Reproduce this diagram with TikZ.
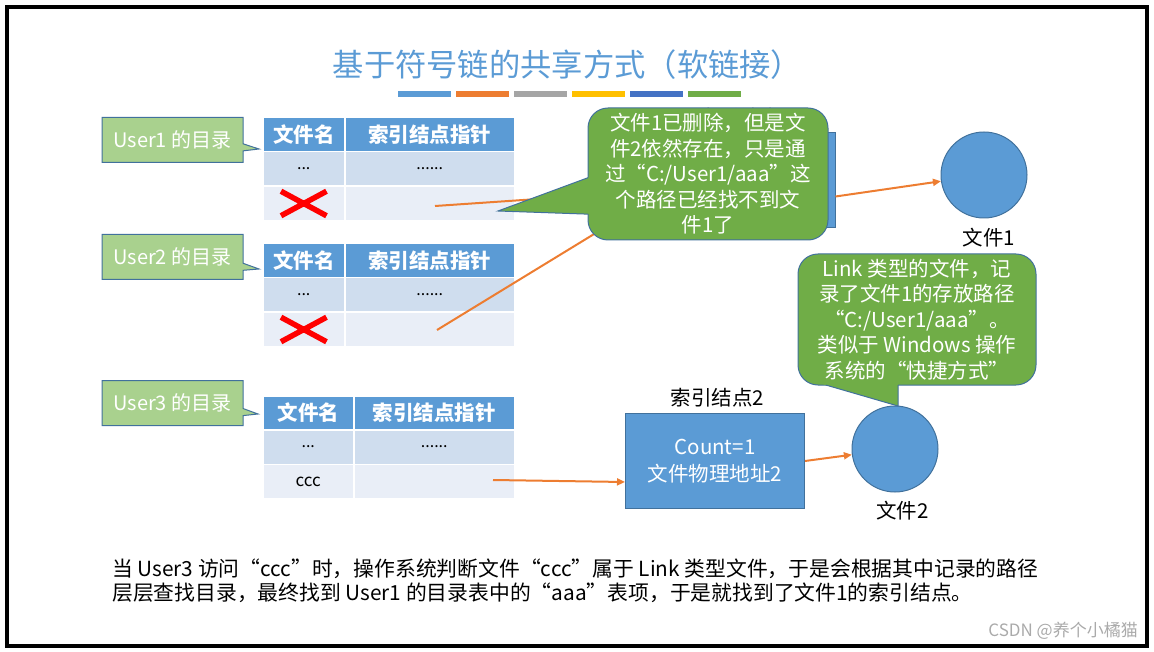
\documentclass[tikz,border=0pt]{standalone}
\usepackage{fontspec}
\setmainfont{Noto Sans CJK SC}
\usetikzlibrary{shapes.callouts,shapes.misc,arrows.meta,calc}
\definecolor{ppblue}{RGB}{91,155,213}
\definecolor{ppedge}{RGB}{65,113,156}
\definecolor{pporange}{RGB}{237,125,49}
\definecolor{ppgray}{RGB}{165,165,165}
\definecolor{ppgold}{RGB}{255,192,0}
\definecolor{ppdark}{RGB}{68,114,196}
\definecolor{ppgreen}{RGB}{112,173,71}
\definecolor{pplight}{RGB}{169,209,142}
\definecolor{rowa}{RGB}{207,221,238}
\definecolor{rowb}{RGB}{233,238,247}
\definecolor{wmgray}{RGB}{170,170,170}

\newcommand{\dirtable}[4]{%
  \node[hcell,minimum width={#3-262}] (#1-h1) at (262,#2) {文件名};
  \node[hcell,minimum width={514-#3}] (#1-h2) at (#3,#2) {索引结点指针};
  \node[acell,minimum width={#3-262}] (#1-a1) at (262,#2+34) {...};
  \node[acell,minimum width={514-#3}] (#1-a2) at (#3,#2+34) {......};
  \node[bcell,minimum width={#3-262}] (#1-b1) at (262,#2+68.5) {#4};
  \node[bcell,minimum width={514-#3}] (#1-b2) at (#3,#2+68.5) {};
}

\begin{document}
\begin{tikzpicture}[x=1pt,y=-1pt,
  cell/.style={anchor=north west,draw=white,line width=1.5pt,inner sep=0pt,minimum height=34.5pt},
  hcell/.style={cell,fill=ppblue,text=white,minimum height=34pt,font=\fontsize{20.5}{24}\selectfont\bfseries},
  acell/.style={cell,fill=rowa,font=\fontsize{16}{19}\selectfont},
  bcell/.style={cell,fill=rowb,font=\fontsize{17}{20}\selectfont},
  xmark/.style={cross out,draw=red,line width=5.5pt,minimum width=40pt,minimum height=19pt,inner sep=0pt},
  userbox/.style={rectangle callout,fill=pplight,draw=ppedge,line width=1pt,minimum width=141pt,minimum height=45pt,inner sep=0pt,text=white,font=\fontsize{20}{24}\selectfont},
  bubble/.style={rounded corners=20pt,fill=ppgreen,draw=ppedge,line width=1pt,text=white,align=center,inner sep=0pt,font=\fontsize{20.5}{25.5}\selectfont},
  idxbox/.style={fill=ppblue,draw=ppedge,line width=1pt,minimum width=179pt,minimum height=95pt,text=white,align=center,font=\fontsize{20.5}{27}\selectfont},
  filenode/.style={circle,fill=ppblue,draw=ppedge,line width=1pt,minimum size=86pt,inner sep=0pt},
  lbl/.style={font=\fontsize{20.5}{24}\selectfont},
  ptr/.style={draw=pporange,line width=2pt,-{Triangle[length=8pt,width=7pt]}},
  edgeline/.style={draw=ppedge,line width=1pt}]
\useasboundingbox (0,0) rectangle (1154,652);
\draw[line width=3.5pt] (7,7) rectangle (1147,646);

\node[text=ppblue,font=\fontsize{31.3}{36}\selectfont] (title) at (567.5,64.5) {基于符号链的共享方式（软链接）};
\foreach \c [count=\i] in {ppblue,pporange,ppgray,ppgold,ppdark,ppgreen}
  \fill[\c] ({398+(\i-1)*58},91) rectangle ++(53,6);

\dirtable{t1}{117}{344}{}
\dirtable{t2}{243}{344}{}
\dirtable{t3}{395}{353}{ccc}
\node[xmark] (x1) at (t1-b1) {};
\node[xmark] (x2) at (t2-b1) {};

\node[userbox,callout absolute pointer={(259,149)}] (u1) at (172.5,140) {User1 的目录};
\node[userbox,callout absolute pointer={(259,269)}] (u2) at (172.5,257) {User2 的目录};
\node[userbox,callout absolute pointer={(258,414)}] (u3) at (172.5,403) {User3 的目录};

\node[idxbox] (idx1) at (745.5,180.5) {};
\node[lbl] (idx1l) at (745.5,118) {索引结点1};
\node[idxbox] (idx2) at (715,461) {Count=1\\文件物理地址2};
\node[lbl] (idx2l) at (717.5,398) {索引结点2};
\node[filenode] (f1) at (984,175) {};
\node[lbl] (f1l) at (989,238) {文件1};
\node[filenode] (f2) at (895,449) {};
\node[lbl] (f2l) at (902.5,511) {文件2};

\coordinate (s1) at (435,206);
\coordinate (s2) at (437,330);
\coordinate (s3) at (493,480);
\draw[ptr] (s1) -- ([yshift=-10.5pt]idx1.west);
\draw[ptr] (s2) -- ([xshift=-36pt,yshift=10pt]idx1.south west);
\draw[ptr] ([yshift=-16pt]idx1.east) -- (f1);
\draw[ptr] (s3) -- ([yshift=-21pt]idx2.west);
\draw[ptr] (idx2.east) -- (f2);

\node[bubble,minimum width=240pt,minimum height=132pt] (c1) at (708,174)
  {文件1已删除，但是文\\件2依然存在，只是通\\过“C:/User1/aaa”这\\个路径已经找不到文\\件1了};
\coordinate (c1tip) at (498,211);
\coordinate (c1a) at (598,174);
\coordinate (c1b) at (598,214.5);
\fill[ppgreen] (c1a) -- (c1tip) -- (c1b) -- cycle;
\draw[edgeline] ($(c1a)!0.1!(c1tip)$) -- (c1tip) -- ($(c1b)!0.1!(c1tip)$);

\node[bubble,minimum width=238pt,minimum height=131pt] (c2) at (917,319.5)
  {Link 类型的文件，记\\录了文件1的存放路径\\“C:/User1/aaa”。\\类似于 Windows 操作\\系统的“快捷方式”};
\coordinate (c2tip) at (898,406);
\coordinate (c2a) at (812,381);
\coordinate (c2b) at (898,381);
\fill[ppgreen] (c2a) -- (c2tip) -- (c2b) -- cycle;
\draw[edgeline] ($(c2a)!0.16!(c2tip)$) -- (c2tip) -- ($(c2b)!0.16!(c2tip)$);

\node[anchor=west,align=left,inner sep=0pt,font=\fontsize{20.8}{24}\selectfont] (note) at (112,581)
  {当 User3 访问“ccc”时，操作系统判断文件“ccc”属于 Link 类型文件，于是会根据其中记录的路径\\
   层层查找目录，最终找到 User1 的目录表中的“aaa”表项，于是就找到了文件1的索引结点。};
\node[anchor=east,text=wmgray,inner sep=0pt,font=\fontsize{17}{20}\selectfont] (wm) at (1138,631) {CSDN @养个小橘猫};
\end{tikzpicture}
\end{document}
